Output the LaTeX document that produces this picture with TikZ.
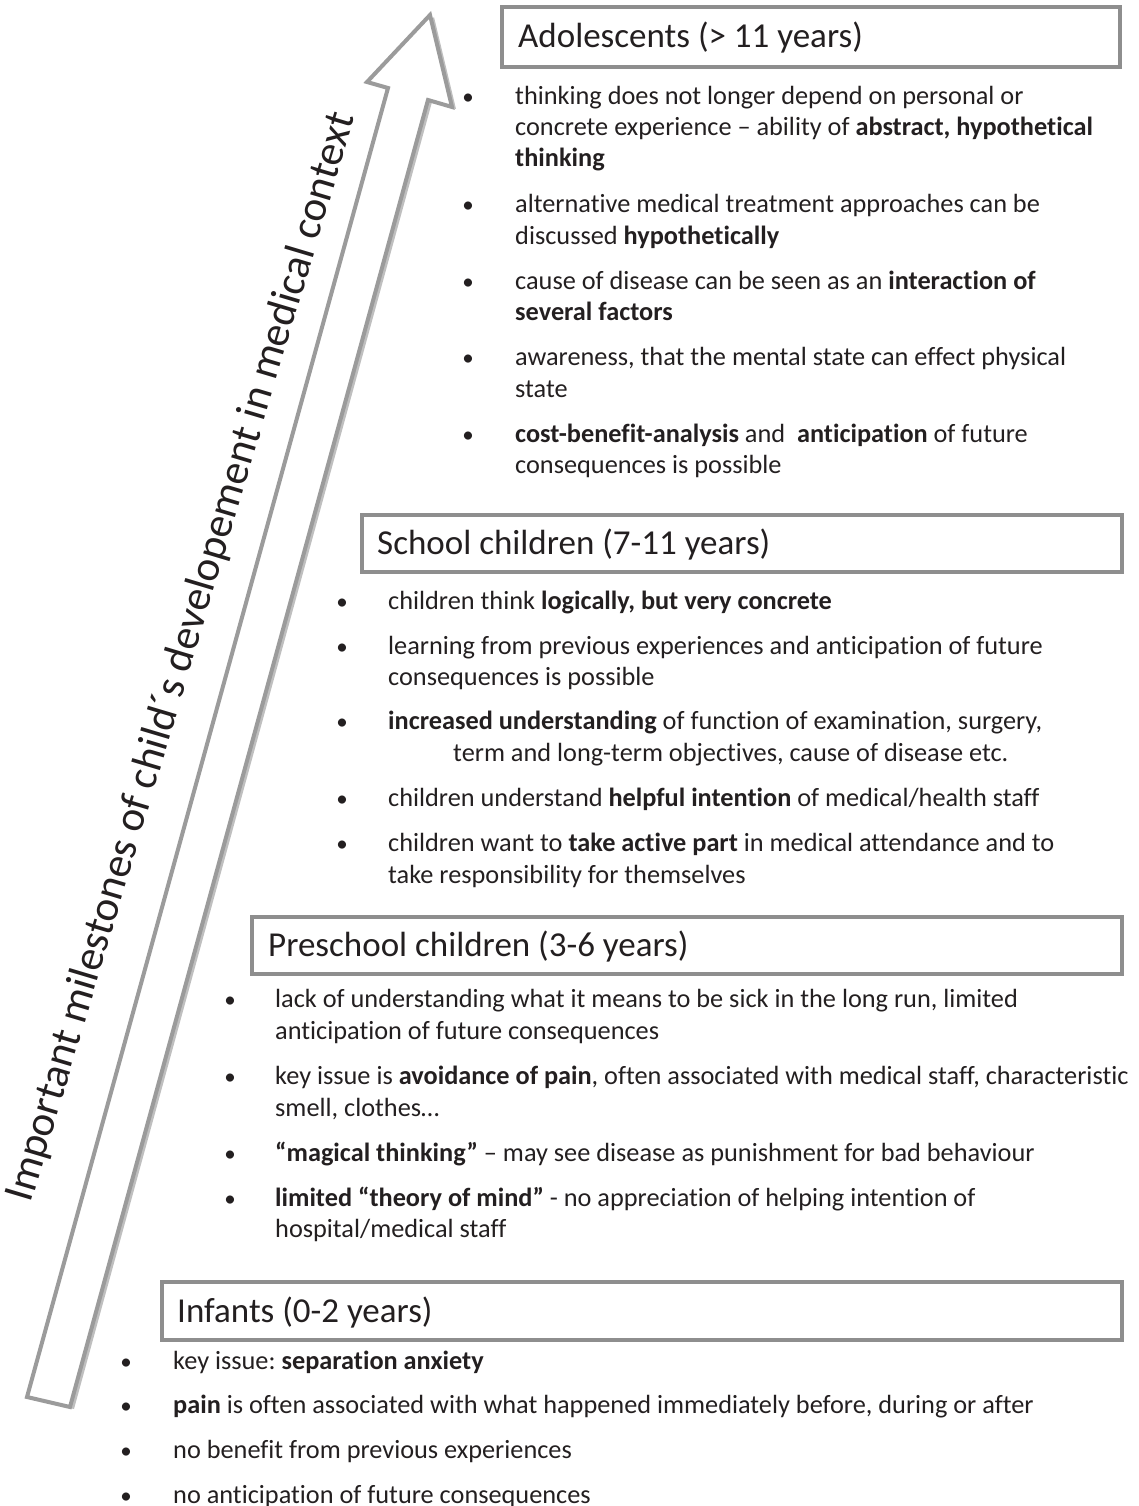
\documentclass[tikz,border=0pt]{standalone}
\usepackage{fontspec}
\setmainfont{Carlito}[Ligatures=NoCommon]
\usetikzlibrary{shadows}
\definecolor{boxgray}{HTML}{8E8E8E}
\definecolor{arrgray}{HTML}{9B9B9B}
\definecolor{txt}{HTML}{231F20}
\frenchspacing
\tikzset{
  bodyline/.style={anchor=base west, inner sep=0pt, font=\fontsize{26.3}{31}\selectfont, text=txt},
  bul/.style={anchor=base, inner sep=0pt, font=\fontsize{23}{31}\selectfont, text=txt},
  titlebox/.style={draw=boxgray, line width=4pt, fill=white, anchor=north west, inner sep=0pt,
    drop shadow={shadow xshift=1.5pt, shadow yshift=-2pt, opacity=0.3, fill=black}},
  titletext/.style={anchor=base west, inner sep=0pt, font=\fontsize{35}{40}\selectfont, text=txt},
}
\begin{document}
\begin{tikzpicture}[x=1pt,y=-1pt]
\useasboundingbox (0,0) rectangle (1139,1506);
% arrow
\draw[draw=arrgray, line width=4pt, fill=white, line join=miter,
  drop shadow={shadow xshift=4pt, shadow yshift=-2pt, opacity=0.25, fill=black}]
  (27,1397) -- (70,1407) -- (428,100) -- (452,107) -- (430,15) -- (367,82) -- (388,88) -- cycle;
\node[anchor=center, inner sep=0pt, text=txt, font=\fontsize{43}{47}\selectfont] (arrowlabel) at (182,657)
  {\rotatebox{73.4}{Important milestones of child´s developement in medical context}};

% Adolescents
\node[titlebox, minimum width=618pt, minimum height=60pt] (boxA) at (500,5) {};
\node[titletext] (tA) at (518,48) {Adolescents (> 11 years)};
\node[bul] (bA1) at (468,105) {•};
\node[bodyline] (a1) at (515,105) {thinking does not longer depend on personal or};
\node[bodyline] (a2) at (515,136) {concrete experience – ability of \textbf{abstract, hypothetical}};
\node[bodyline] (a3) at (515,167) {\textbf{thinking}};
\node[bul] (bA2) at (468,213) {•};
\node[bodyline] (a4) at (515,213) {alternative medical treatment approaches can be};
\node[bodyline] (a5) at (515,244) {discussed \textbf{hypothetically}};
\node[bul] (bA3) at (468,289) {•};
\node[bodyline] (a6) at (515,289) {cause of disease can be seen as an \textbf{interaction of}};
\node[bodyline] (a7) at (515,320) {\textbf{several factors}};
\node[bul] (bA4) at (468,365) {•};
\node[bodyline] (a8) at (515,365) {awareness, that the mental state can effect physical};
\node[bodyline] (a9) at (515,397) {state};
\node[bul] (bA5) at (468,442) {•};
\node[bodyline] (a10) at (515,442) {\textbf{cost-benefit-analysis} and\ \ \textbf{anticipation} of future};
\node[bodyline] (a11) at (515,473) {consequences is possible};

% School children
\node[titlebox, minimum width=760pt, minimum height=57pt] (boxS) at (360,513) {};
\node[titletext] (tS) at (377,554) {School children (7-11 years)};
\node[bul] (bS1) at (342,609) {•};
\node[bodyline] (s1) at (388,609) {children think \textbf{logically, but very concrete}};
\node[bul] (bS2) at (342,654) {•};
\node[bodyline] (s2) at (388,654) {learning from previous experiences and anticipation of future};
\node[bodyline] (s3) at (388,685) {consequences is possible};
\node[bul] (bS3) at (342,729) {•};
\node[bodyline] (s4) at (388,729) {\textbf{increased understanding} of function of examination, surgery,};
\node[bodyline] (s5) at (453,761) {term and long-term objectives, cause of disease etc.};
\node[bul] (bS4) at (342,806) {•};
\node[bodyline] (s6) at (388,806) {children understand \textbf{helpful intention} of medical/health staff};
\node[bul] (bS5) at (342,851) {•};
\node[bodyline] (s7) at (388,851) {children want to \textbf{take active part} in medical attendance and to};
\node[bodyline] (s8) at (388,883) {take responsibility for themselves};

% Preschool children
\node[titlebox, minimum width=870pt, minimum height=57pt] (boxP) at (250,915) {};
\node[titletext] (tP) at (268,956) {Preschool children (3-6 years)};
\node[bul] (bP1) at (230,1007) {•};
\node[bodyline] (p1) at (275,1007) {lack of understanding what it means to be sick in the long run, limited};
\node[bodyline] (p2) at (275,1039) {anticipation of future consequences};
\node[bul] (bP2) at (230,1084) {•};
\node[bodyline] (p3) at (275,1084) {key issue is \textbf{avoidance of pain}, often associated with medical staff, characteristic};
\node[bodyline] (p4) at (275,1116) {smell, clothes…};
\node[bul] (bP3) at (230,1161) {•};
\node[bodyline] (p5) at (275,1161) {\textbf{“magical thinking”} – may see disease as punishment for bad behaviour};
\node[bul] (bP4) at (230,1206) {•};
\node[bodyline] (p6) at (275,1206) {\textbf{limited “theory of mind”} - no appreciation of helping intention of};
\node[bodyline] (p7) at (275,1237) {hospital/medical staff};

% Infants
\node[titlebox, minimum width=960pt, minimum height=58pt] (boxI) at (160,1280) {};
\node[titletext] (tI) at (177,1322) {Infants (0-2 years)};
\node[bul] (bI1) at (126,1369) {•};
\node[bodyline] (i1) at (173,1369) {key issue: \textbf{separation anxiety}};
\node[bul] (bI2) at (126,1413) {•};
\node[bodyline] (i2) at (173,1413) {\textbf{pain} is often associated with what happened immediately before, during or after};
\node[bul] (bI3) at (126,1458) {•};
\node[bodyline] (i3) at (173,1458) {no benefit from previous experiences};
\node[bul] (bI4) at (126,1503) {•};
\node[bodyline] (i4) at (173,1503) {no anticipation of future consequences};
\end{tikzpicture}
\end{document}
